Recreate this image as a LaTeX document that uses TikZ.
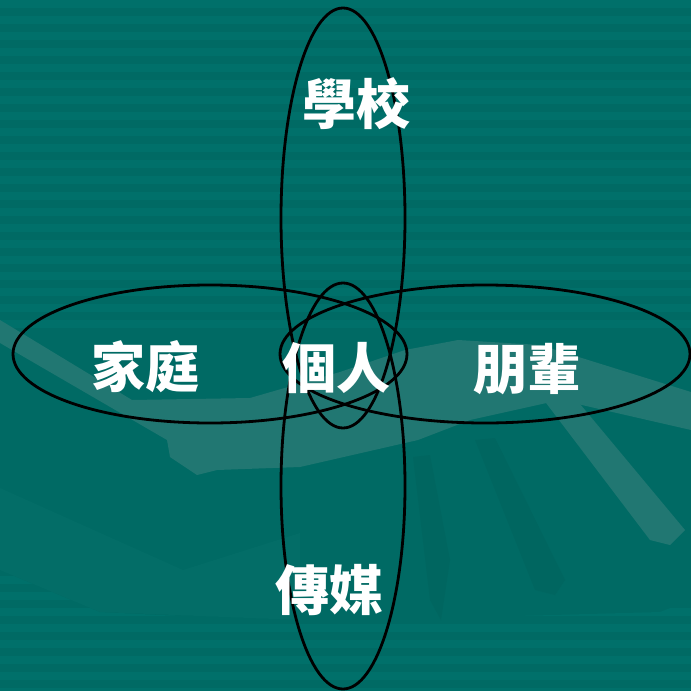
\documentclass[tikz,border=0pt]{standalone}
\usepackage{fontspec}
\usetikzlibrary{shapes.geometric}
\newfontfamily\cjk{Noto Sans CJK TC}

\definecolor{bgteal}{HTML}{006A64}
\definecolor{stripeteal}{HTML}{00706A}
\definecolor{handlight}{HTML}{217772}
\definecolor{handmid}{HTML}{036D67}
\definecolor{handdark}{HTML}{006660}

\tikzset{
  ring/.style={draw=black, line width=2.8pt, ellipse, inner sep=0pt},
  word/.style={text=white, font=\cjk\bfseries\fontsize{54}{54}\selectfont, inner sep=0pt}
}

\begin{document}
\begin{tikzpicture}[x=1pt,y=-1pt]
	\useasboundingbox (0,0) rectangle (691,691);
	\fill[bgteal] (0,0) rectangle (691,691);
	% stripes
	\foreach \y in {0,16,...,320}
		\fill[stripeteal] (0,\y) rectangle (691,\y+8);
	\begin{scope}
		\clip (0,570)--(100,612)--(300,622)--(660,612)--(691,600)--(691,691)--(0,691)--cycle;
		\foreach \y in {560,576,...,688}
			\fill[stripeteal] (0,\y) rectangle (691,\y+8);
	\end{scope}
	% hand in the background
	\fill[handmid] (0,488)--(183,570)--(300,533)--(300,620)--(100,612)--(0,570)--cycle;
	\fill[handlight] (0,320)--(132,400)--(250,398)--(340,372)--(405,350)--(458,340)--(540,345)--(691,392)
		--(691,430)--(560,400)--(470,420)--(418,440)--(300,467)--(217,470)--(197,475)--(170,457)--(167,440)--(0,343)--cycle;
	\fill[handlight] (540,395)--(570,392)--(685,530)--(670,545)--(650,540)--cycle;
	\fill[handdark] (413,457)--(430,455)--(450,560)--(441,620)--(430,600)--cycle;
	\fill[handdark] (475,440)--(495,438)--(565,580)--(555,595)--(535,590)--cycle;
	% circles of influence
	\node[ring, minimum width=124, minimum height=420] (schoolring) at (343,218) {};
	\node[ring, minimum width=124, minimum height=406] (mediaring) at (343,486) {};
	\node[ring, minimum width=394, minimum height=138] (familyring) at (210,354) {};
	\node[ring, minimum width=410, minimum height=138] (peerring) at (485,354) {};
	% labels
	\node[word] (school) at (356,104) {學校};
	\node[word] (family) at (145,367) {家庭};
	\node[word] (self) at (336,368) {個人};
	\node[word] (peers) at (527,369) {朋輩};
	\node[word] (media) at (329,590) {傳媒};
\end{tikzpicture}
\end{document}
